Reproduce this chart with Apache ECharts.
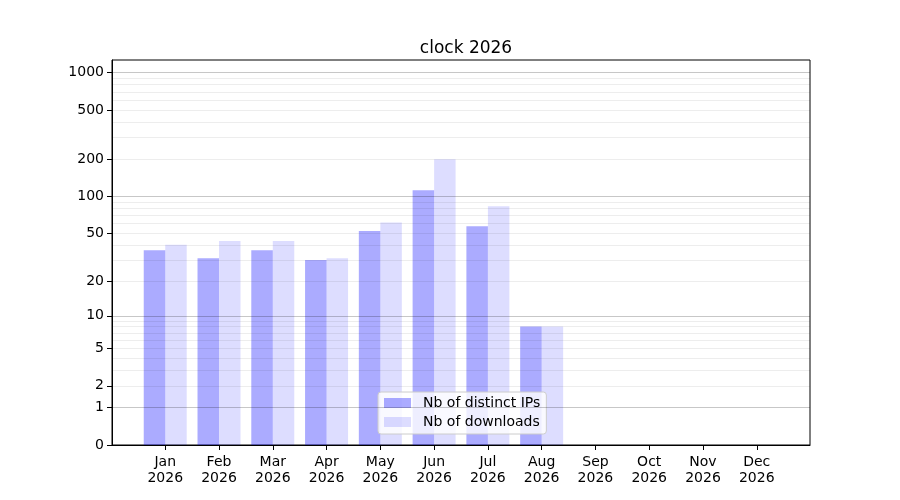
<!DOCTYPE html>
<html lang="en">
<head>
    <meta charset="UTF-8">
    <script src="https://cdn.jsdelivr.net/npm/echarts@6/dist/echarts.min.js"></script>
    <title>clock 2026</title>
    <style>
        body { margin: 0; background: #ffffff; }
        #chart { width: 900px; height: 500px; }
    </style>
</head>
<body>
    <div id="chart"></div>
    <script>
        // Data
        var months = ['Jan', 'Feb', 'Mar', 'Apr', 'May', 'Jun', 'Jul', 'Aug', 'Sep', 'Oct', 'Nov', 'Dec'];
        var year = '2026';
        var distinctIps = [36, 31, 36, 30, 52, 112, 57, 8, 0, 0, 0, 0];
        var downloads = [40, 43, 43, 31, 61, 200, 83, 8, 0, 0, 0, 0];

        // y ticks (symlog-like scale: log10(1 + v))
        var yTicks = [0, 1, 2, 5, 10, 20, 50, 100, 200, 500, 1000];
        var majorGrid = [1, 10, 100, 1000];
        var minorGrid = [2, 3, 4, 5, 6, 7, 8, 9, 20, 30, 40, 50, 60, 70, 80, 90,
                         200, 300, 400, 500, 600, 700, 800, 900];
        var yMax = 1264;

        var font = 'DejaVu Sans';

        // shift by one so zero fits on a log axis
        function shift(v) { return v + 1; }
        function toPoints(arr) {
            return arr.map(function (v, i) { return [i, shift(v)]; });
        }
        function gridLines(list, color) {
            return list.map(function (v) {
                return { yAxis: shift(v), lineStyle: { color: color, width: 1, type: 'solid' } };
            });
        }

        var chart = echarts.init(document.getElementById('chart'));

        chart.setOption({
            animation: false,
            textStyle: { fontFamily: font },
            title: {
                text: 'clock ' + year,
                left: 461,
                textAlign: 'center',
                top: 35,
                textStyle: { fontFamily: font, fontSize: 17, fontWeight: 'normal', color: '#000' }
            },
            legend: {
                data: ['Nb of distinct IPs', 'Nb of downloads'],
                orient: 'vertical',
                left: 378,
                top: 392,
                itemWidth: 27,
                itemHeight: 10,
                itemGap: 5,
                padding: [4, 6, 5, 6],
                icon: 'rect',
                backgroundColor: 'rgba(255,255,255,0.8)',
                borderColor: '#cccccc',
                borderWidth: 1,
                borderRadius: 3,
                textStyle: { fontFamily: font, fontSize: 14, color: '#000', padding: [0, 0, 0, 7] }
            },
            grid: {
                left: 112, right: 90, top: 60, bottom: 55,
                show: true, borderColor: '#000', borderWidth: 1,
                containLabel: false
            },
            xAxis: {
                type: 'value',
                min: -0.99,
                max: 11.99,
                axisLine: { onZero: false, lineStyle: { color: '#000' } },
                splitLine: { show: false },
                axisTick: { customValues: months.map(function (m, i) { return i; }), length: 5, lineStyle: { color: '#000' } },
                axisLabel: {
                    customValues: months.map(function (m, i) { return i; }),
                    formatter: function (v) { return months[Math.round(v)] + '\n' + year; },
                    fontFamily: font, fontSize: 14, color: '#000', lineHeight: 16, margin: 9
                }
            },
            yAxis: {
                type: 'log',
                logBase: 10,
                min: 1,
                max: shift(yMax),
                axisLine: { onZero: false, lineStyle: { color: '#000' } },
                splitLine: { show: false },
                minorSplitLine: { show: false },
                axisTick: { customValues: yTicks.map(shift), length: 5, lineStyle: { color: '#000' } },
                axisLabel: {
                    customValues: yTicks.map(shift),
                    formatter: function (v) { return String(Math.round(v - 1)); },
                    fontFamily: font, fontSize: 14, color: '#000', margin: 8
                }
            },
            series: [
                {
                    name: 'Nb of distinct IPs',
                    type: 'bar',
                    data: toPoints(distinctIps),
                    barWidth: 21.5,
                    barGap: '0%',
                    itemStyle: { color: 'rgba(0,0,255,0.33)' },
                    z: 1
                },
                {
                    name: 'Nb of downloads',
                    type: 'bar',
                    data: toPoints(downloads),
                    barWidth: 21.5,
                    barGap: '0%',
                    itemStyle: { color: 'rgba(0,0,255,0.135)' },
                    z: 1
                },
                {
                    // grid lines, drawn over the bars like the reference
                    name: 'grid',
                    type: 'line',
                    data: [],
                    silent: true,
                    z: 2,
                    markLine: {
                        silent: true,
                        symbol: ['none', 'none'],
                        label: { show: false },
                        animation: false,
                        data: gridLines(minorGrid, 'rgba(0,0,0,0.07)').concat(gridLines(majorGrid, 'rgba(0,0,0,0.22)'))
                    }
                }
            ]
        });
    </script>
</body>
</html>
